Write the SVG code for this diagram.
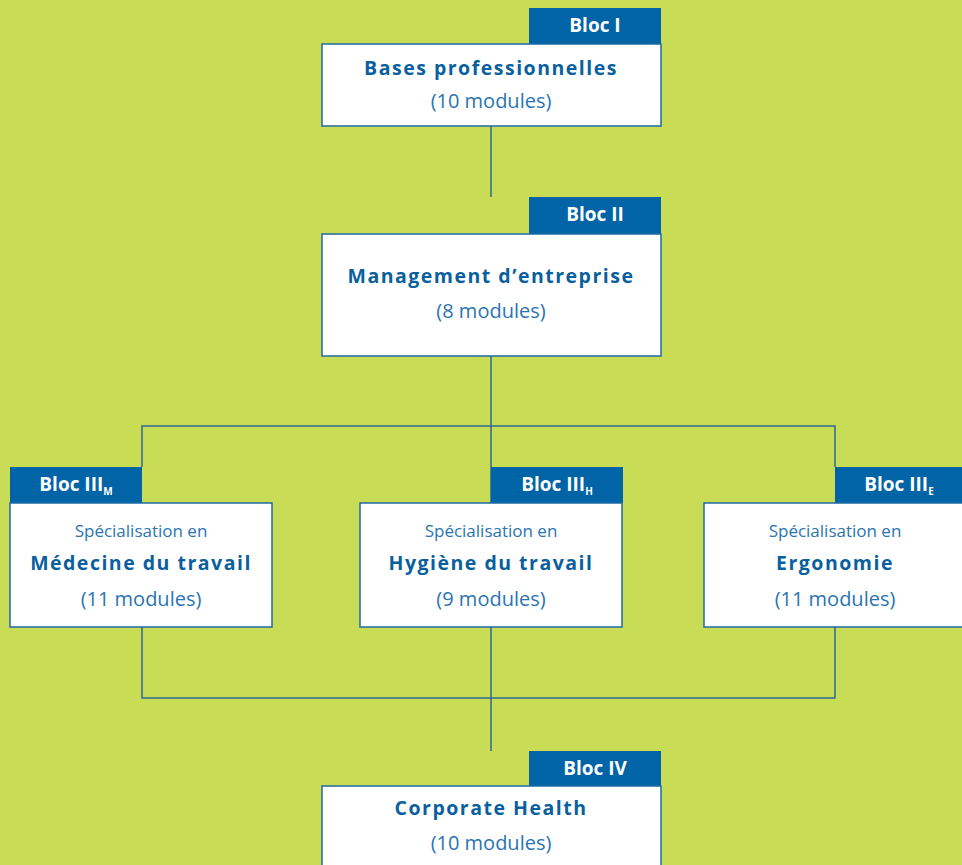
<svg xmlns="http://www.w3.org/2000/svg" width="962" height="865" viewBox="0 0 962 865">
<style>
.box{fill:#fff;stroke:#1f6aa5;stroke-width:1.5}
.tab{fill:#0064a7}
.tabt{font-family:"Open Sans","Liberation Sans",sans-serif;font-weight:bold;font-size:19px;fill:#fff;text-anchor:middle}
.sub{font-size:10px}
.ti{font-family:"Open Sans","Liberation Sans",sans-serif;font-weight:bold;font-size:19.5px;letter-spacing:1.5px;fill:#0a5f9e;text-anchor:middle}
.mo{font-family:"Open Sans","Liberation Sans",sans-serif;font-size:20px;fill:#2a74b2;text-anchor:middle}
.sp{font-family:"Open Sans","Liberation Sans",sans-serif;font-size:17px;fill:#2a74b2;text-anchor:middle}
.ln{fill:none;stroke:#2b6894;stroke-width:1.5}
</style>
<rect width="962" height="865" fill="#c8dc55"/>
<g id="connectors">
<path class="ln" d="M491 126V197M491 356V503M142 467V426H835V467M142 627V698H835V627M491 627V751"/>
</g>
<g id="bloc1">
<rect class="tab" x="529" y="8" width="132" height="36"/>
<text class="tabt" x="595" y="32">Bloc I</text>
<rect class="box" x="322" y="44" width="339" height="82"/>
<text class="ti" x="491" y="75">Bases professionnelles</text>
<text class="mo" x="491" y="108">(10 modules)</text>
</g>
<g id="bloc2">
<rect class="tab" x="529" y="197" width="132" height="37"/>
<text class="tabt" x="595" y="221">Bloc II</text>
<rect class="box" x="322" y="234" width="339" height="122"/>
<text class="ti" x="491" y="283">Management d’entreprise</text>
<text class="mo" x="491" y="318">(8 modules)</text>
</g>
<g id="bloc3m">
<rect class="tab" x="10" y="467" width="132" height="36"/>
<text class="tabt" x="76" y="491">Bloc III<tspan class="sub" dy="4">M</tspan></text>
<rect class="box" x="10" y="503" width="262" height="124"/>
<text class="sp" x="141" y="537">Spécialisation en</text>
<text class="ti" x="141" y="570">Médecine du travail</text>
<text class="mo" x="141" y="606">(11 modules)</text>
</g>
<g id="bloc3h">
<rect class="tab" x="491" y="467" width="132" height="36"/>
<text class="tabt" x="557" y="491">Bloc III<tspan class="sub" dy="4">H</tspan></text>
<rect class="box" x="360" y="503" width="262" height="124"/>
<text class="sp" x="491" y="537">Spécialisation en</text>
<text class="ti" x="491" y="570">Hygiène du travail</text>
<text class="mo" x="491" y="606">(9 modules)</text>
</g>
<g id="bloc3e">
<rect class="tab" x="835" y="467" width="128" height="36"/>
<text class="tabt" x="899" y="491">Bloc III<tspan class="sub" dy="4">E</tspan></text>
<rect class="box" x="704" y="503" width="262" height="124"/>
<text class="sp" x="835" y="537">Spécialisation en</text>
<text class="ti" x="835" y="570">Ergonomie</text>
<text class="mo" x="835" y="606">(11 modules)</text>
</g>
<g id="bloc4">
<rect class="tab" x="529" y="751" width="132" height="35"/>
<text class="tabt" x="595" y="775">Bloc IV</text>
<rect class="box" x="322" y="786" width="339" height="90"/>
<text class="ti" x="491" y="815">Corporate Health</text>
<text class="mo" x="491" y="850">(10 modules)</text>
</g>
</svg>
